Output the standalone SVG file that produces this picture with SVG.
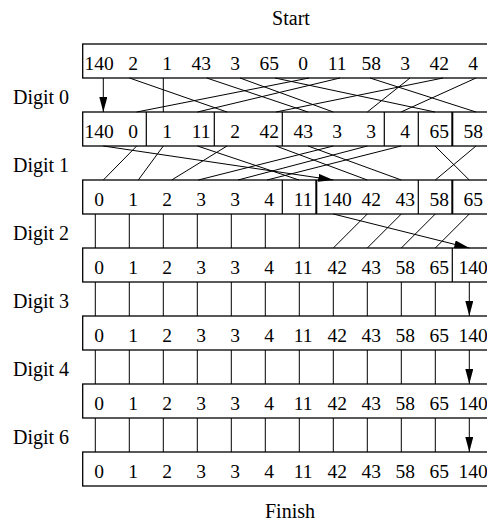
<svg xmlns="http://www.w3.org/2000/svg" width="487" height="525" viewBox="0 0 487 525">
  <style>
    .lbl { font-family: "Liberation Serif", "Times New Roman", serif; font-size: 20px; fill: #000; }
    .num { font-family: "Liberation Serif", "Times New Roman", serif; font-size: 19.5px; fill: #000; text-anchor: middle; }
    .box { fill: #fff; stroke: #000; stroke-width: 1.3; }
    .div { stroke: #000; stroke-width: 1.2; }
    .div2 { stroke: #000; stroke-width: 2; }
    .wire { stroke: #000; stroke-width: 1; fill: none; }
    .arr { stroke: #000; stroke-width: 1; fill: none; marker-end: url(#head); }
  </style>
  <defs>
    <marker id="head" markerUnits="userSpaceOnUse" markerWidth="15" markerHeight="8" refX="15" refY="4" orient="auto">
      <path d="M0,0 L15,4 L0,8 z" fill="#000"/>
    </marker>
  </defs>
  <rect width="487" height="525" fill="#fff"/>

  <text class="lbl" x="291" y="25" text-anchor="middle">Start</text>
  <text class="lbl" x="290" y="518" text-anchor="middle">Finish</text>

  <g id="labels">
    <text class="lbl" x="13" y="104">Digit 0</text>
    <text class="lbl" x="13" y="172">Digit 1</text>
    <text class="lbl" x="13" y="240">Digit 2</text>
    <text class="lbl" x="13" y="308">Digit 3</text>
    <text class="lbl" x="13" y="376">Digit 4</text>
    <text class="lbl" x="13" y="444">Digit 6</text>
  </g>

  <!-- initial array -->
  <g id="row0">
    <rect class="box" x="82.7" y="44" width="420" height="34"/>
    <text class="num" y="69.5">
      <tspan x="99.2">140</tspan><tspan x="133.2">2</tspan><tspan x="167.2">1</tspan><tspan x="201.2">43</tspan><tspan x="235.2">3</tspan><tspan x="269.2">65</tspan><tspan x="303.2">0</tspan><tspan x="337.2">11</tspan><tspan x="371.2">58</tspan><tspan x="405.2">3</tspan><tspan x="439.2">42</tspan><tspan x="473.2">4</tspan>
    </text>
  </g>

  <!-- after digit 0 -->
  <g id="row1">
    <rect class="box" x="82.7" y="112" width="420" height="34"/>
    <line class="div" x1="146.3" y1="112" x2="146.3" y2="146"/>
    <line class="div" x1="214.3" y1="112" x2="214.3" y2="146"/>
    <line class="div" x1="282.3" y1="112" x2="282.3" y2="146"/>
    <line class="div" x1="384.3" y1="112" x2="384.3" y2="146"/>
    <line class="div" x1="418.3" y1="112" x2="418.3" y2="146"/>
    <line class="div2" x1="452.3" y1="112" x2="452.3" y2="146"/>
    <text class="num" y="137.5">
      <tspan x="99.2">140</tspan><tspan x="133.2">0</tspan><tspan x="167.2">1</tspan><tspan x="201.2">11</tspan><tspan x="235.2">2</tspan><tspan x="269.2">42</tspan><tspan x="303.2">43</tspan><tspan x="337.2">3</tspan><tspan x="371.2">3</tspan><tspan x="405.2">4</tspan><tspan x="439.2">65</tspan><tspan x="473.2">58</tspan>
    </text>
  </g>

  <!-- after digit 1 -->
  <g id="row2">
    <rect class="box" x="82.7" y="180" width="420" height="34"/>
    <line class="div" x1="282.3" y1="180" x2="282.3" y2="214"/>
    <line class="div2" x1="316.3" y1="180" x2="316.3" y2="214"/>
    <line class="div" x1="418.3" y1="180" x2="418.3" y2="214"/>
    <line class="div2" x1="452.3" y1="180" x2="452.3" y2="214"/>
    <text class="num" y="205.5">
      <tspan x="99.2">0</tspan><tspan x="133.2">1</tspan><tspan x="167.2">2</tspan><tspan x="201.2">3</tspan><tspan x="235.2">3</tspan><tspan x="269.2">4</tspan><tspan x="303.2">11</tspan><tspan x="337.2">140</tspan><tspan x="371.2">42</tspan><tspan x="405.2">43</tspan><tspan x="439.2">58</tspan><tspan x="473.2">65</tspan>
    </text>
  </g>

  <!-- after digit 2 -->
  <g id="row3">
    <rect class="box" x="82.7" y="248" width="420" height="34"/>
    <line class="div" x1="452.3" y1="248" x2="452.3" y2="282"/>
    <text class="num" y="273.5">
      <tspan x="99.2">0</tspan><tspan x="133.2">1</tspan><tspan x="167.2">2</tspan><tspan x="201.2">3</tspan><tspan x="235.2">3</tspan><tspan x="269.2">4</tspan><tspan x="303.2">11</tspan><tspan x="337.2">42</tspan><tspan x="371.2">43</tspan><tspan x="405.2">58</tspan><tspan x="439.2">65</tspan><tspan x="473.2">140</tspan>
    </text>
  </g>

  <!-- after digit 3 -->
  <g id="row4">
    <rect class="box" x="82.7" y="316" width="420" height="34"/>
    <text class="num" y="341.5">
      <tspan x="99.2">0</tspan><tspan x="133.2">1</tspan><tspan x="167.2">2</tspan><tspan x="201.2">3</tspan><tspan x="235.2">3</tspan><tspan x="269.2">4</tspan><tspan x="303.2">11</tspan><tspan x="337.2">42</tspan><tspan x="371.2">43</tspan><tspan x="405.2">58</tspan><tspan x="439.2">65</tspan><tspan x="473.2">140</tspan>
    </text>
  </g>

  <!-- after digit 4 -->
  <g id="row5">
    <rect class="box" x="82.7" y="384" width="420" height="34"/>
    <text class="num" y="409.5">
      <tspan x="99.2">0</tspan><tspan x="133.2">1</tspan><tspan x="167.2">2</tspan><tspan x="201.2">3</tspan><tspan x="235.2">3</tspan><tspan x="269.2">4</tspan><tspan x="303.2">11</tspan><tspan x="337.2">42</tspan><tspan x="371.2">43</tspan><tspan x="405.2">58</tspan><tspan x="439.2">65</tspan><tspan x="473.2">140</tspan>
    </text>
  </g>

  <!-- after digit 6 -->
  <g id="row6">
    <rect class="box" x="82.7" y="452" width="420" height="34"/>
    <text class="num" y="477.5">
      <tspan x="99.2">0</tspan><tspan x="133.2">1</tspan><tspan x="167.2">2</tspan><tspan x="201.2">3</tspan><tspan x="235.2">3</tspan><tspan x="269.2">4</tspan><tspan x="303.2">11</tspan><tspan x="337.2">42</tspan><tspan x="371.2">43</tspan><tspan x="405.2">58</tspan><tspan x="439.2">65</tspan><tspan x="473.2">140</tspan>
    </text>
  </g>

  <g id="connectors">
    <!-- digit 0 pass -->
    <line class="arr" x1="103.3" y1="78" x2="103.3" y2="112"/>
    <line class="wire" x1="129.5" y1="78" x2="227" y2="112"/>
    <line class="wire" x1="163.3" y1="78" x2="163.3" y2="112"/>
    <line class="wire" x1="206.7" y1="78" x2="308" y2="112"/>
    <line class="wire" x1="240" y1="78" x2="333.3" y2="112"/>
    <line class="wire" x1="275" y1="78" x2="435" y2="112"/>
    <line class="wire" x1="309" y1="78" x2="136.7" y2="112"/>
    <line class="wire" x1="340" y1="78" x2="197.5" y2="112"/>
    <line class="wire" x1="370" y1="78" x2="476" y2="112"/>
    <line class="wire" x1="410" y1="78" x2="367.3" y2="112"/>
    <line class="wire" x1="443" y1="78" x2="276" y2="112"/>
    <line class="wire" x1="476" y1="78" x2="401" y2="112"/>

    <!-- digit 1 pass -->
    <line class="arr" x1="103.3" y1="146" x2="333.3" y2="180"/>
    <line class="wire" x1="136.7" y1="146" x2="103.3" y2="180"/>
    <line class="wire" x1="163.3" y1="146" x2="138.3" y2="180"/>
    <line class="wire" x1="197.5" y1="146" x2="299" y2="180"/>
    <line class="wire" x1="227" y1="146" x2="171.7" y2="180"/>
    <line class="wire" x1="276" y1="146" x2="367.3" y2="180"/>
    <line class="wire" x1="308" y1="146" x2="401.3" y2="180"/>
    <line class="wire" x1="333.3" y1="146" x2="198.3" y2="180"/>
    <line class="wire" x1="367.3" y1="146" x2="238" y2="180"/>
    <line class="wire" x1="401" y1="146" x2="267" y2="180"/>
    <line class="wire" x1="435" y1="146" x2="469.3" y2="180"/>
    <line class="wire" x1="476" y1="146" x2="435.3" y2="180"/>

    <!-- digit 2 pass -->
    <path class="wire" d="M95.3,214V248M129.3,214V248M163.3,214V248M197.3,214V248M231.3,214V248M265.3,214V248M299.3,214V248"/>
    <path class="wire" d="M367.3,214L333.3,248M401.3,214L367.3,248M435.3,214L401.3,248M469.3,214L435.3,248"/>
    <line class="arr" x1="333.3" y1="214" x2="469.3" y2="248"/>

    <!-- digit 3 pass -->
    <path class="wire" d="M95.3,282V316M129.3,282V316M163.3,282V316M197.3,282V316M231.3,282V316M265.3,282V316M299.3,282V316M333.3,282V316M367.3,282V316M401.3,282V316M435.3,282V316"/>
    <line class="arr" x1="469.3" y1="282" x2="469.3" y2="316"/>

    <!-- digit 4 pass -->
    <path class="wire" d="M95.3,350V384M129.3,350V384M163.3,350V384M197.3,350V384M231.3,350V384M265.3,350V384M299.3,350V384M333.3,350V384M367.3,350V384M401.3,350V384M435.3,350V384"/>
    <line class="arr" x1="469.3" y1="350" x2="469.3" y2="384"/>

    <!-- digit 6 pass -->
    <path class="wire" d="M95.3,418V452M129.3,418V452M163.3,418V452M197.3,418V452M231.3,418V452M265.3,418V452M299.3,418V452M333.3,418V452M367.3,418V452M401.3,418V452M435.3,418V452"/>
    <line class="arr" x1="469.3" y1="418" x2="469.3" y2="452"/>
  </g>
</svg>
